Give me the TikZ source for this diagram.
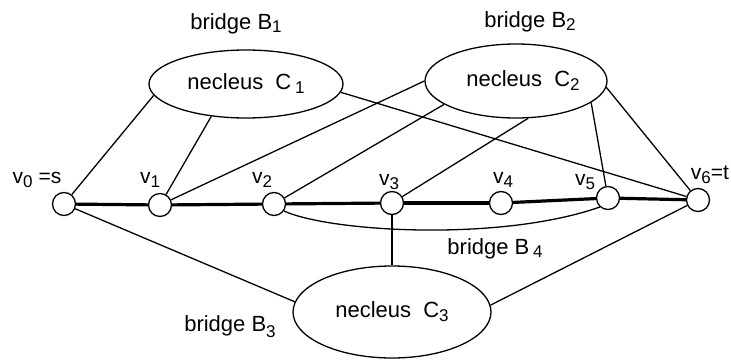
\documentclass[tikz,border=0pt]{standalone}
\usepackage{fontspec}
\setmainfont{Liberation Sans}
\usetikzlibrary{shapes.geometric}
\newcommand\lsub[2][4pt]{\raisebox{-#1}{\fontsize{17}{17}\selectfont #2}}
\begin{document}
\begin{tikzpicture}[x=1pt,y=-1pt,
  vtx/.style={circle,draw,line width=1.3pt,fill=white,minimum size=23pt,inner sep=0pt},
  nuc/.style={ellipse,draw,line width=1.3pt,inner sep=0pt,font=\fontsize{22}{26}\selectfont},
  edge/.style={line width=1.3pt},
  spine/.style={line width=3.2pt},
  txt/.style={font=\fontsize{22}{26}\selectfont,inner sep=0pt},
  vtxt/.style={font=\fontsize{21}{25}\selectfont,inner sep=0pt}]
\useasboundingbox (0,0) rectangle (731,359);

% nuclei
\node[nuc,minimum width=194pt,minimum height=68pt] (C1) at (246,84) {necleus\ \ C\,\lsub{1}};
\node[nuc,minimum width=182pt,minimum height=74pt] (C2) at (516,81) {\hspace*{14pt}necleus\ \ C\lsub{2}};
\node[nuc,minimum width=198pt,minimum height=92pt] (C3) at (392,312) {necleus\ \ C\lsub{3}};

% vertices
\node[vtx] (v0) at (64,204) {};
\node[vtx] (v1) at (160,205) {};
\node[vtx] (v2) at (274,204) {};
\node[vtx] (v3) at (392,203) {};
\node[vtx] (v4) at (501,203) {};
\node[vtx] (v5) at (608,198) {};
\node[vtx] (v6) at (698,200) {};

% spine path
\draw[spine] (v0) -- (v1);
\draw[spine] (v1) -- (v2);
\draw[spine] (v2) -- (v3);
\draw[spine] (v3) -- (v4);
\draw[spine] (v4) -- (v5);
\draw[spine] (v5) -- (v6);

% bridge B1
\draw[edge] (C1.187) -- (v0);
\draw[edge] (C1.223) -- (v1);
\draw[edge] (C1.355) -- (v6);

% bridge B2
\draw[edge] (C2.180) -- (v1);
\draw[edge] (C2.198) -- (v2);
\draw[edge] (C2.288) -- (v3);
\draw[edge] (C2.344) -- (v5);
\draw[edge] (C2.356) -- (v6);

% bridge B3
\draw[edge] (C3.174) -- (v0);
\draw[edge] (C3.north) -- (v3);
\draw[edge] (C3.4) -- (v6);

% bridge B4
\draw[edge] (v2.-35) .. controls (330,232) and (500,242) .. (v5.228);

% labels
\node[txt] (lB1) at (236,24) {bridge B\lsub[3pt]{1}};
\node[txt] (lB2) at (530,22) {bridge B\lsub[3pt]{2}};
\node[txt] (lB3) at (230,327) {bridge B\lsub[6pt]{3}};
\node[txt] (lB4) at (495,249) {bridge B\,\lsub[3pt]{4}};

\node[vtxt] (l0) at (37,180) {v\lsub{0} =s};
\node[vtxt] (l1) at (150,180) {v\lsub{1}};
\node[vtxt] (l2) at (262,180) {v\lsub{2}};
\node[vtxt] (l3) at (389,182) {v\lsub{3}};
\node[vtxt] (l4) at (503,180) {v\lsub{4}};
\node[vtxt] (l5) at (585,182) {v\lsub{5}};
\node[vtxt] (l6) at (710,175) {v\lsub{6}=t};
\end{tikzpicture}
\end{document}
